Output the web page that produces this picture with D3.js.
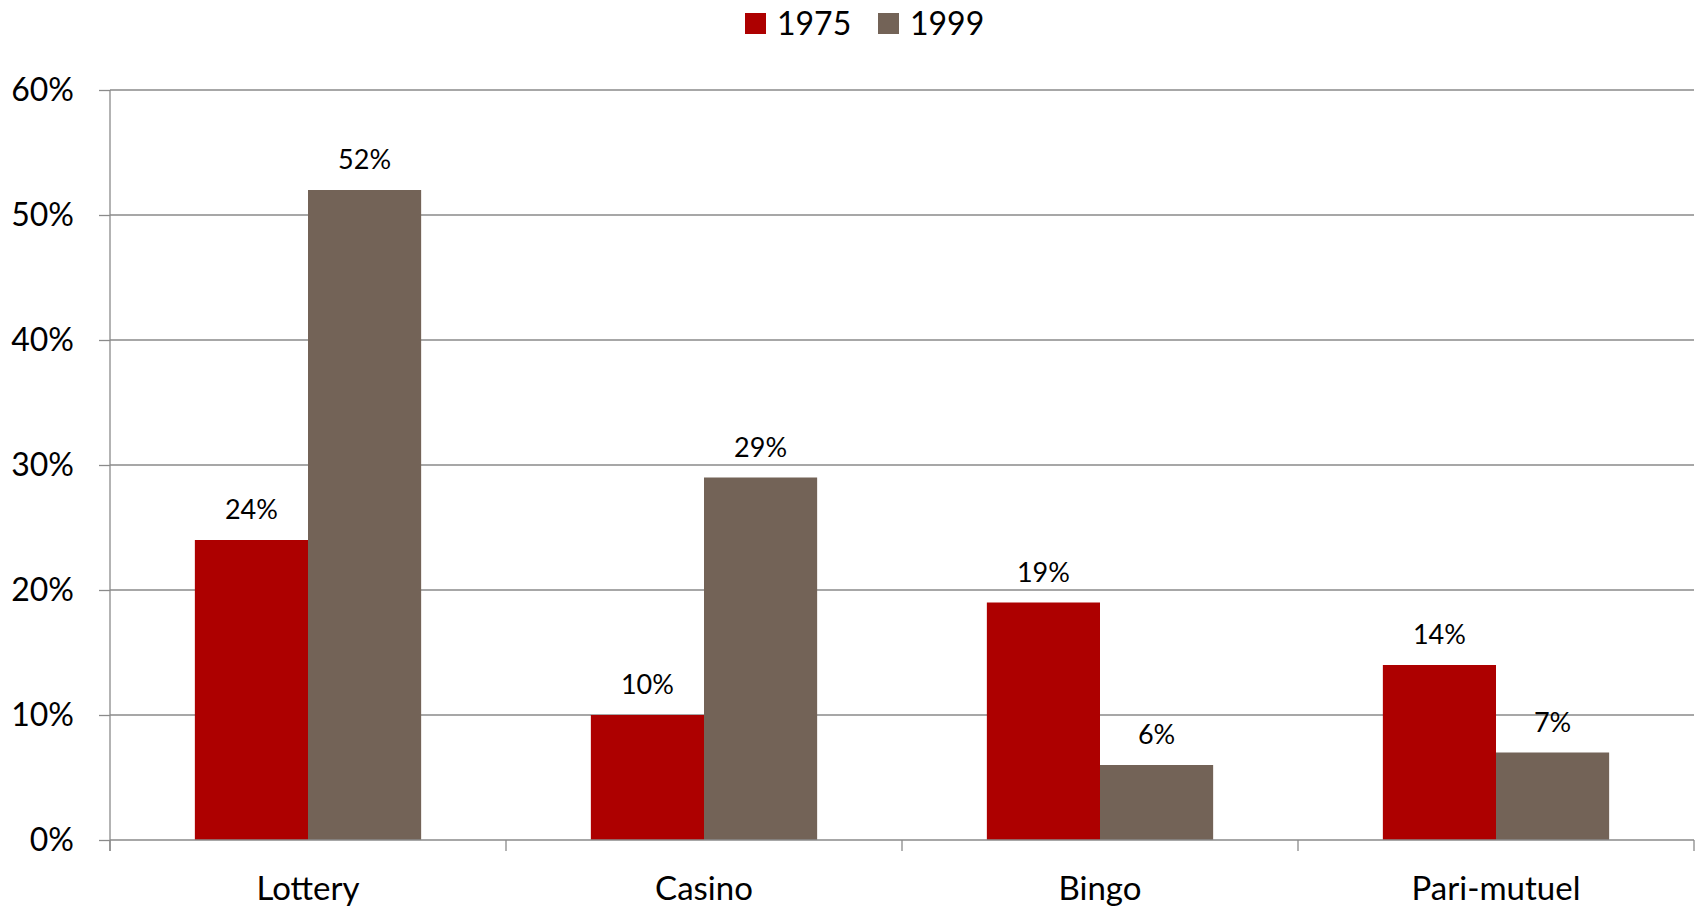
<!DOCTYPE html>
<html>
<head>
<meta charset="utf-8">
<script src="https://cdn.jsdelivr.net/npm/d3@7"></script>
<style>
  html, body { margin: 0; padding: 0; background: #fff; }
  svg { display: block; font-family: Lato, "Open Sans", sans-serif; }
</style>
</head>
<body>
<svg id="chart" width="1698" height="906"></svg>
<script>
const categories = ["Lottery", "Casino", "Bingo", "Pari-mutuel"];
const series = ["1975", "1999"];
const values1975 = [0.24, 0.10, 0.19, 0.14];
const values1999 = [0.52, 0.29, 0.06, 0.07];
const yTicks = [0, 0.1, 0.2, 0.3, 0.4, 0.5, 0.6];
const colors = ["#AD0000", "#736357"];

const W = 1698, H = 906;
const margin = { top: 90, right: 4, bottom: 66, left: 110 };
const svg = d3.select("#chart");

const x0 = d3.scaleBand().domain(categories).range([margin.left, W - margin.right]).paddingInner(0).paddingOuter(0);
const x1 = d3.scaleBand().domain(series).range([0, x0.bandwidth()]).paddingInner(0).paddingOuter(0.75);
const y = d3.scaleLinear().domain([0, 0.6]).range([H - margin.bottom, margin.top]);
const color = d3.scaleOrdinal().domain(series).range(colors);

const gridColor = "#8a8a8a";

// gridlines
svg.append("g").selectAll("line").data(yTicks.slice(1)).join("line")
  .attr("x1", margin.left).attr("x2", W - margin.right)
  .attr("y1", d => y(d)).attr("y2", d => y(d))
  .attr("stroke", gridColor).attr("stroke-width", 1.3);

// y axis
const yAxis = svg.append("g").attr("transform", `translate(${margin.left},0)`)
  .call(d3.axisLeft(y).tickValues(yTicks).tickFormat(d3.format(".0%")).tickSize(11).tickPadding(25));
yAxis.select(".domain").attr("stroke", gridColor).attr("stroke-width", 1.3)
  .attr("d", `M0,${y(0) + 11}V${y(0.6)}`);
yAxis.selectAll(".tick line").attr("stroke", gridColor).attr("stroke-width", 1.3);
yAxis.selectAll(".tick text").attr("font-size", 32).attr("fill", "#000").attr("font-family", "Lato, sans-serif");

const data = categories.map((c, i) => ({ cat: c, vals: [values1975[i], values1999[i]] }));

// bars
const groups = svg.append("g").selectAll("g").data(data).join("g")
  .attr("transform", d => `translate(${x0(d.cat)},0)`);
groups.selectAll("rect").data(d => series.map((s, j) => ({ s, v: d.vals[j] }))).join("rect")
  .attr("x", d => x1(d.s)).attr("width", x1.bandwidth())
  .attr("y", d => y(d.v)).attr("height", d => y(0) - y(d.v))
  .attr("fill", d => color(d.s));
groups.selectAll("text").data(d => series.map((s, j) => ({ s, v: d.vals[j] }))).join("text")
  .attr("x", d => x1(d.s) + x1.bandwidth() / 2)
  .attr("y", d => y(d.v) - 21)
  .attr("text-anchor", "middle").attr("font-size", 27).attr("fill", "#000")
  .text(d => d3.format(".0%")(d.v));

// x axis
const xAxisG = svg.append("g").attr("transform", `translate(0,${y(0)})`);
xAxisG.append("line").attr("x1", margin.left).attr("x2", W - margin.right)
  .attr("stroke", gridColor).attr("stroke-width", 1.3);
const bounds = categories.map(c => x0(c)).concat([x0(categories[categories.length - 1]) + x0.bandwidth()]);
xAxisG.selectAll("line.tk").data(bounds).join("line").attr("class", "tk")
  .attr("x1", d => d).attr("x2", d => d).attr("y1", 0).attr("y2", 11)
  .attr("stroke", gridColor).attr("stroke-width", 1.3);
xAxisG.selectAll("text").data(categories).join("text")
  .attr("x", d => x0(d) + x0.bandwidth() / 2).attr("y", 60)
  .attr("text-anchor", "middle").attr("font-size", 33).attr("fill", "#000")
  .text(d => d);

// legend
const legend = svg.append("g");
const legendItems = [{ s: series[0], x: 745, tx: 777 }, { s: series[1], x: 878, tx: 910 }];
legend.selectAll("rect").data(legendItems).join("rect")
  .attr("x", d => d.x).attr("y", 13).attr("width", 21).attr("height", 21)
  .attr("fill", d => color(d.s));
legend.selectAll("text").data(legendItems).join("text")
  .attr("x", d => d.tx).attr("y", 35).attr("font-size", 32).attr("fill", "#000")
  .text(d => d.s);
</script>
</body>
</html>
